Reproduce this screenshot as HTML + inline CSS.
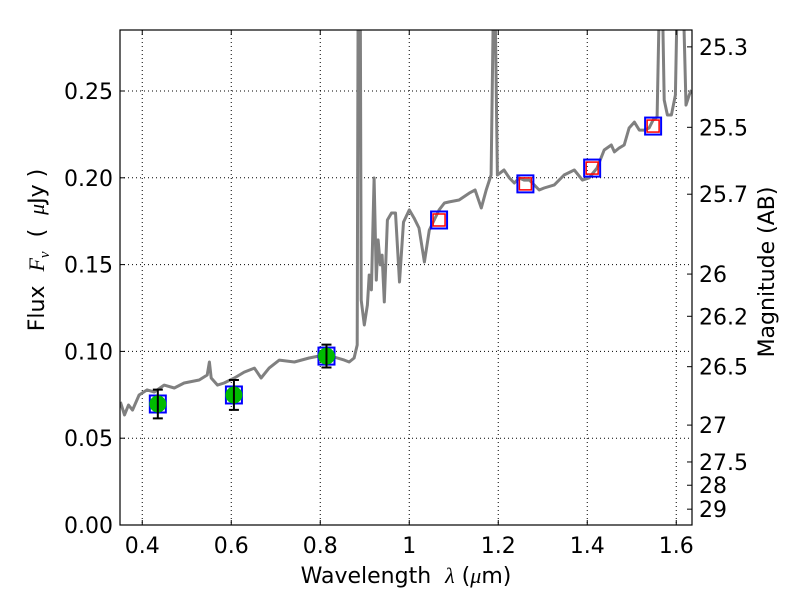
<!DOCTYPE html>
<html><head><meta charset="utf-8"><style>
body{margin:0;background:#fff;}
svg text{font-family:"DejaVu Sans","Liberation Sans",sans-serif;fill:#000;}
</style></head><body>
<svg id="c" width="800" height="600" xmlns="http://www.w3.org/2000/svg">
<defs><clipPath id="clip"><rect x="120" y="30" width="572" height="495"/></clipPath></defs>
<rect width="800" height="600" fill="#fff"/>
<g id="grid"></g>
<g id="spec" clip-path="url(#clip)"></g>
<g id="pts"></g>
<rect x="120" y="30" width="572" height="495" fill="none" stroke="#000" stroke-width="1.2"/>
<g id="axes"></g>
<text x="406" y="583" font-size="22" text-anchor="middle" xml:space="preserve">Wavelength  <tspan font-family="Liberation Serif" font-style="italic">λ</tspan> (<tspan font-family="Liberation Serif" font-style="italic">μ</tspan>m)</text>
<text transform="translate(44,250) rotate(-90)" font-size="22" text-anchor="middle" xml:space="preserve">Flux  <tspan font-family="Liberation Serif" font-style="italic">F</tspan><tspan font-family="Liberation Serif" font-style="italic" font-size="15" dy="5">ν</tspan><tspan dy="-5">  (  </tspan><tspan font-family="Liberation Serif" font-style="italic">μ</tspan>Jy )</text>
<text transform="translate(774,272) rotate(-90)" font-size="22" text-anchor="middle">Magnitude (AB)</text>
</svg>
<script>
const specWave=[0.351,0.360,0.369,0.378,0.393,0.411,0.427,0.449,0.472,0.494,0.528,0.546,0.551,0.555,0.569,0.584,0.607,0.629,0.652,0.667,0.685,0.708,0.742,0.775,0.809,0.831,0.854,0.865,0.876,0.883,0.885,0.890,0.892,0.899,0.906,0.910,0.915,0.921,0.926,0.930,0.935,0.939,0.944,0.951,0.960,0.969,0.978,0.987,1.000,1.011,1.022,1.034,1.045,1.056,1.067,1.079,1.090,1.112,1.135,1.148,1.162,1.173,1.184,1.189,1.193,1.198,1.213,1.225,1.236,1.247,1.258,1.270,1.292,1.303,1.326,1.348,1.371,1.389,1.404,1.422,1.438,1.454,1.461,1.472,1.483,1.494,1.506,1.517,1.528,1.539,1.548,1.557,1.562,1.569,1.573,1.580,1.589,1.598,1.602,1.616,1.622,1.629,1.634];
const specFlux=[0.0709,0.0634,0.0691,0.0662,0.0749,0.0778,0.0766,0.0806,0.0789,0.0818,0.0835,0.0864,0.0939,0.0847,0.0806,0.0818,0.0847,0.0881,0.0904,0.0847,0.0904,0.0950,0.0939,0.0962,0.0979,0.0968,0.0950,0.0939,0.0962,0.1037,0.30,0.30,0.1296,0.1152,0.1267,0.1440,0.1354,0.1999,0.1411,0.1642,0.1498,0.1555,0.1285,0.1757,0.1797,0.1797,0.1400,0.1745,0.1815,0.1768,0.1711,0.1515,0.1699,0.1757,0.1815,0.1855,0.1861,0.1872,0.1912,0.1930,0.1826,0.1930,0.2016,0.30,0.30,0.2016,0.2045,0.1999,0.1970,0.1999,0.1987,0.1987,0.1930,0.1941,0.1959,0.2016,0.2045,0.1987,0.1999,0.2056,0.2160,0.2189,0.2149,0.2172,0.2189,0.2287,0.2321,0.2275,0.2275,0.2287,0.2333,0.2350,0.30,0.30,0.2448,0.2362,0.2362,0.2477,0.30,0.30,0.2419,0.2477,0.2506];
const photWave=[0.435,0.606,0.814,1.067,1.261,1.411,1.548];
const photFlux=[0.0697,0.0749,0.0973,0.1757,0.1965,0.2056,0.2298];
const photErr=[0.0083,0.0086,0.0066,0,0,0,0];
const photDetected=[1,1,1,0,0,0,0];
const xTicks=[0.4,0.6,0.8,1.0,1.2,1.4,1.6];
const xTickLabels=["0.4","0.6","0.8","1","1.2","1.4","1.6"];
const yTicks=[0,0.05,0.10,0.15,0.20,0.25];
const yTickLabels=["0.00","0.05","0.10","0.15","0.20","0.25"];
const magTicks=[25.3,25.5,25.7,26,26.2,26.5,27,27.5,28,29];
const magLabels=["25.3","25.5","25.7","26","26.2","26.5","27","27.5","28","29"];

const X0=120,X1=692,Y0=525,Y1=30, xmin=0.35, xmax=0.35+572/445, ymin=0, ymax=495/1736;
const sx=v=>X0+(v-xmin)/(xmax-xmin)*(X1-X0);
const sy=v=>Y0-(v-ymin)/(ymax-ymin)*(Y0-Y1);
const NS="http://www.w3.org/2000/svg";
function mk(tag,attrs,parent){const e=document.createElementNS(NS,tag);for(const k in attrs)e.setAttribute(k,attrs[k]);document.getElementById(parent).appendChild(e);return e;}

xTicks.forEach((t,i)=>{
  const x=sx(t);
  const g=mk('line',{x1:x,x2:x,y1:Y1,y2:Y0,stroke:'#000','stroke-width':1,'stroke-dasharray':'1,3'},'grid');
  
  
  mk('line',{x1:x,x2:x,y1:Y0,y2:Y0-5,stroke:'#000'},'axes');
  mk('line',{x1:x,x2:x,y1:Y1,y2:Y1+5,stroke:'#000'},'axes');
  const tx=mk('text',{x:x,y:Y0+28,'font-size':22,'text-anchor':'middle'},'axes');
  tx.textContent=xTickLabels[i];
  
  
});
yTicks.forEach((t,i)=>{
  const y=sy(t);
  const g=mk('line',{x1:X0,x2:X1,y1:y,y2:y,stroke:'#000','stroke-width':1,'stroke-dasharray':'1,3'},'grid');
  
  
  mk('line',{x1:X0,x2:X0+5,y1:y,y2:y,stroke:'#000'},'axes');
  const tx=mk('text',{x:X0-7,y:y+8,'font-size':22,'text-anchor':'end'},'axes');
  tx.textContent=yTickLabels[i];
  
  
});
magTicks.forEach((m,i)=>{
  const y=sy(Math.pow(10,(23.9-m)/2.5));
  mk('line',{x1:X1,x2:X1-5,y1:y,y2:y,stroke:'#000'},'axes');
  const tx=mk('text',{x:X1+7,y:y+8,'font-size':22},'axes');
  tx.textContent=magLabels[i];
  
  
});
const d=specWave.map((w,i)=>(i?'L':'M')+sx(w).toFixed(1)+','+sy(specFlux[i]).toFixed(1)).join(' ');
const sp=mk('path',{d:d,fill:'none',stroke:'#808080','stroke-width':3,'stroke-linejoin':'round'},'spec');


photWave.forEach((w,i)=>{
  const x=sx(w),y=sy(photFlux[i]);
  const b=mk('rect',{x:x-8,y:y-8.5,width:16,height:17,fill:'none',stroke:'#0000ff','stroke-width':2},'pts');
  
  
  if(photDetected[i]){
    const c=mk('circle',{cx:x,cy:y,r:8.5,fill:'#00bb00'},'pts');
    
    
    const yt=sy(photFlux[i]+photErr[i]),yb=sy(photFlux[i]-photErr[i]);
    const e=mk('path',{d:`M${x},${yt}L${x},${yb}M${x-5},${yt}L${x+5},${yt}M${x-5},${yb}L${x+5},${yb}`,stroke:'#000','stroke-width':2,fill:'none'},'pts');
    
    
  } else {
    const r=mk('rect',{x:x-6,y:y-6,width:12,height:12,fill:'none',stroke:'#ff0000','stroke-width':1.5},'pts');
    
    
  }
});
</script>
</body></html>
